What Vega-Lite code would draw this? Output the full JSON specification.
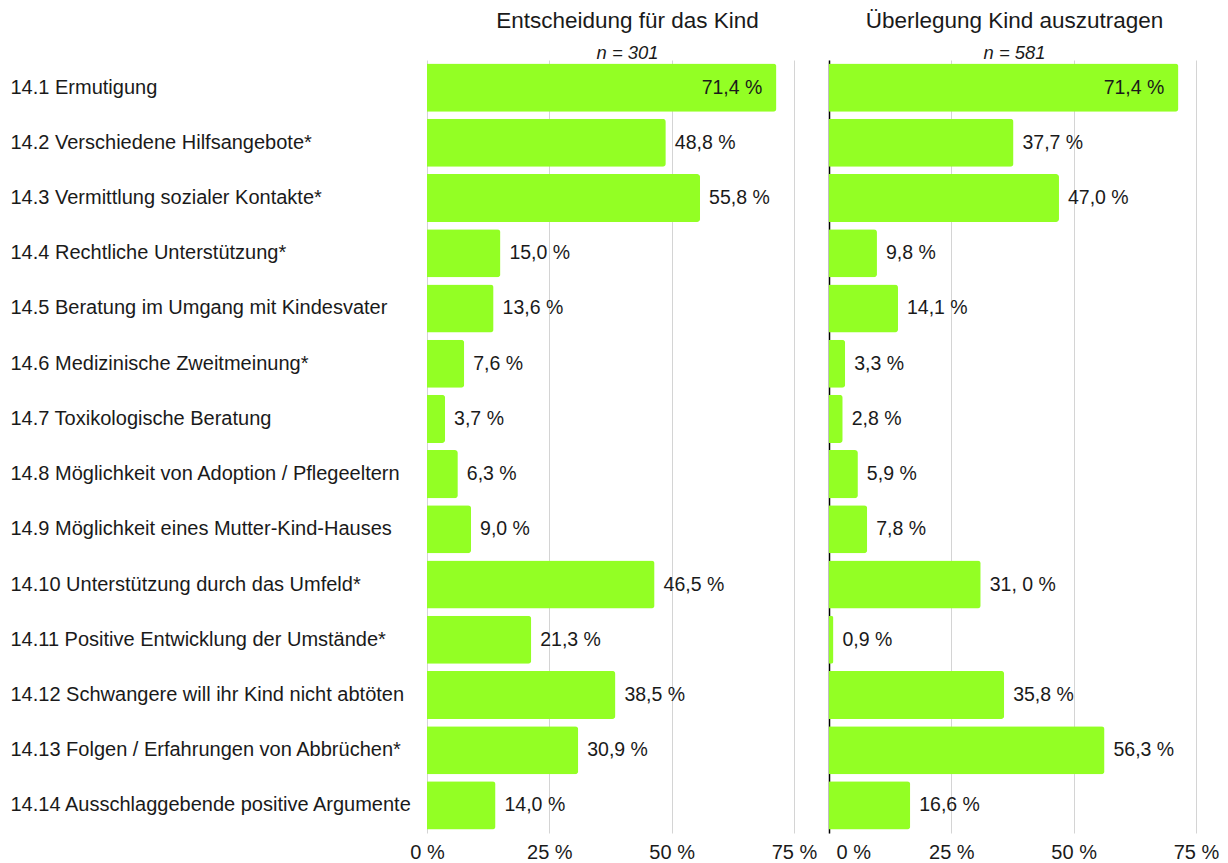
{
  "$schema": "https://vega.github.io/schema/vega-lite/v6.json",
  "background": "white",
  "padding": {"left": 10, "top": 10, "right": 5, "bottom": 0},
  "config": {
    "font": "Liberation Sans",
    "view": {"stroke": null},
    "axis": {"labelFont": "Liberation Sans", "labelFontSize": 20, "labelColor": "#1a1a1a"},
    "title": {"font": "Liberation Sans", "fontSize": 22.5, "fontWeight": "normal", "color": "#1a1a1a", "subtitleFont": "Liberation Sans", "subtitleFontSize": 18.4, "subtitleFontStyle": "italic", "subtitleColor": "#1a1a1a", "subtitlePadding": 11, "offset": -2}
  },
  "datasets": {
    "d": [
      {"item": "14.1 Ermutigung", "panel": "E", "value": 71.4, "label": "71,4 %"},
      {"item": "14.2 Verschiedene Hilfsangebote*", "panel": "E", "value": 48.8, "label": "48,8 %"},
      {"item": "14.3 Vermittlung sozialer Kontakte*", "panel": "E", "value": 55.8, "label": "55,8 %"},
      {"item": "14.4 Rechtliche Unterstützung*", "panel": "E", "value": 15.0, "label": "15,0 %"},
      {"item": "14.5 Beratung im Umgang mit Kindesvater", "panel": "E", "value": 13.6, "label": "13,6 %"},
      {"item": "14.6 Medizinische Zweitmeinung*", "panel": "E", "value": 7.6, "label": "7,6 %"},
      {"item": "14.7 Toxikologische Beratung", "panel": "E", "value": 3.7, "label": "3,7 %"},
      {"item": "14.8 Möglichkeit von Adoption / Pflegeeltern", "panel": "E", "value": 6.3, "label": "6,3 %"},
      {"item": "14.9 Möglichkeit eines Mutter-Kind-Hauses", "panel": "E", "value": 9.0, "label": "9,0 %"},
      {"item": "14.10 Unterstützung durch das Umfeld*", "panel": "E", "value": 46.5, "label": "46,5 %"},
      {"item": "14.11 Positive Entwicklung der Umstände*", "panel": "E", "value": 21.3, "label": "21,3 %"},
      {"item": "14.12 Schwangere will ihr Kind nicht abtöten", "panel": "E", "value": 38.5, "label": "38,5 %"},
      {"item": "14.13 Folgen / Erfahrungen von Abbrüchen*", "panel": "E", "value": 30.9, "label": "30,9 %"},
      {"item": "14.14 Ausschlaggebende positive Argumente", "panel": "E", "value": 14.0, "label": "14,0 %"},
      {"item": "14.1 Ermutigung", "panel": "U", "value": 71.4, "label": "71,4 %"},
      {"item": "14.2 Verschiedene Hilfsangebote*", "panel": "U", "value": 37.7, "label": "37,7 %"},
      {"item": "14.3 Vermittlung sozialer Kontakte*", "panel": "U", "value": 47.0, "label": "47,0 %"},
      {"item": "14.4 Rechtliche Unterstützung*", "panel": "U", "value": 9.8, "label": "9,8 %"},
      {"item": "14.5 Beratung im Umgang mit Kindesvater", "panel": "U", "value": 14.1, "label": "14,1 %"},
      {"item": "14.6 Medizinische Zweitmeinung*", "panel": "U", "value": 3.3, "label": "3,3 %"},
      {"item": "14.7 Toxikologische Beratung", "panel": "U", "value": 2.8, "label": "2,8 %"},
      {"item": "14.8 Möglichkeit von Adoption / Pflegeeltern", "panel": "U", "value": 5.9, "label": "5,9 %"},
      {"item": "14.9 Möglichkeit eines Mutter-Kind-Hauses", "panel": "U", "value": 7.8, "label": "7,8 %"},
      {"item": "14.10 Unterstützung durch das Umfeld*", "panel": "U", "value": 31.0, "label": "31, 0 %"},
      {"item": "14.11 Positive Entwicklung der Umstände*", "panel": "U", "value": 0.9, "label": "0,9 %"},
      {"item": "14.12 Schwangere will ihr Kind nicht abtöten", "panel": "U", "value": 35.8, "label": "35,8 %"},
      {"item": "14.13 Folgen / Erfahrungen von Abbrüchen*", "panel": "U", "value": 56.3, "label": "56,3 %"},
      {"item": "14.14 Ausschlaggebende positive Argumente", "panel": "U", "value": 16.6, "label": "16,6 %"}
    ]
  },
  "bounds": "flush",
  "spacing": 35,
  "hconcat": [
    {
      "width": 367,
      "height": 773,
      "title": {"text": "Entscheidung für das Kind", "subtitle": "n = 301", "dx": 17},
      "data": {"name": "d"},
      "transform": [{"filter": "datum.panel === 'E'"}],
      "encoding": {
        "y": {"field": "item", "type": "nominal", "sort": null,
          "scale": {"paddingInner": 0.13, "paddingOuter": 0.065},
          "axis": {"title": null, "domain": false, "ticks": false, "labelAlign": "left", "labelPadding": 417, "labelLimit": 420}},
        "x": {"field": "value", "type": "quantitative", "scale": {"domain": [0, 75], "nice": false},
          "axis": {"title": null, "values": [0, 25, 50, 75], "domain": false, "ticks": false, "grid": true, "gridColor": "#d4d4d4", "labelPadding": 9, "labelFlush": false, "labelExpr": "datum.value + ' %'"}}
      },
      "layer": [
        {"mark": {"type": "bar", "color": "#93FF24", "cornerRadiusEnd": 3}},
        {"transform": [{"filter": "datum.value < 70"}],
         "mark": {"type": "text", "align": "left", "dx": 9, "fontSize": 19.5, "color": "#1a1a1a", "font": "Liberation Sans"},
         "encoding": {"text": {"field": "label"}}},
        {"transform": [{"filter": "datum.value >= 70"}],
         "mark": {"type": "text", "align": "right", "dx": -14, "fontSize": 19.5, "color": "#1a1a1a", "font": "Liberation Sans"},
         "encoding": {"text": {"field": "label"}}}
      ]
    },
    {
      "width": 367,
      "height": 773,
      "title": {"text": "Überlegung Kind auszutragen", "subtitle": "n = 581", "dx": 2},
      "data": {"name": "d"},
      "transform": [{"filter": "datum.panel === 'U'"}],
      "encoding": {
        "y": {"field": "item", "type": "nominal", "sort": null,
          "scale": {"paddingInner": 0.13, "paddingOuter": 0.065},
          "axis": {"title": null, "labels": false, "ticks": false, "domain": true, "domainColor": "#000000", "domainWidth": 1.5}},
        "x": {"field": "value", "type": "quantitative", "scale": {"domain": [0, 75], "nice": false},
          "axis": {"title": null, "values": [0, 25, 50, 75], "domain": false, "ticks": false, "grid": true, "gridColor": "#d4d4d4", "labelPadding": 9, "labelFlush": false, "labelExpr": "datum.value + ' %'",
            "labelAlign": {"condition": {"test": "datum.value === 0", "value": "left"}, "value": "center"},
            "labelOffset": {"condition": {"test": "datum.value === 0", "value": 7}, "value": 0}}}
      },
      "layer": [
        {"mark": {"type": "bar", "color": "#93FF24", "cornerRadiusEnd": 3}},
        {"transform": [{"filter": "datum.value < 70"}],
         "mark": {"type": "text", "align": "left", "dx": 9, "fontSize": 19.5, "color": "#1a1a1a", "font": "Liberation Sans"},
         "encoding": {"text": {"field": "label"}}},
        {"transform": [{"filter": "datum.value >= 70"}],
         "mark": {"type": "text", "align": "right", "dx": -14, "fontSize": 19.5, "color": "#1a1a1a", "font": "Liberation Sans"},
         "encoding": {"text": {"field": "label"}}}
      ]
    }
  ]
}
